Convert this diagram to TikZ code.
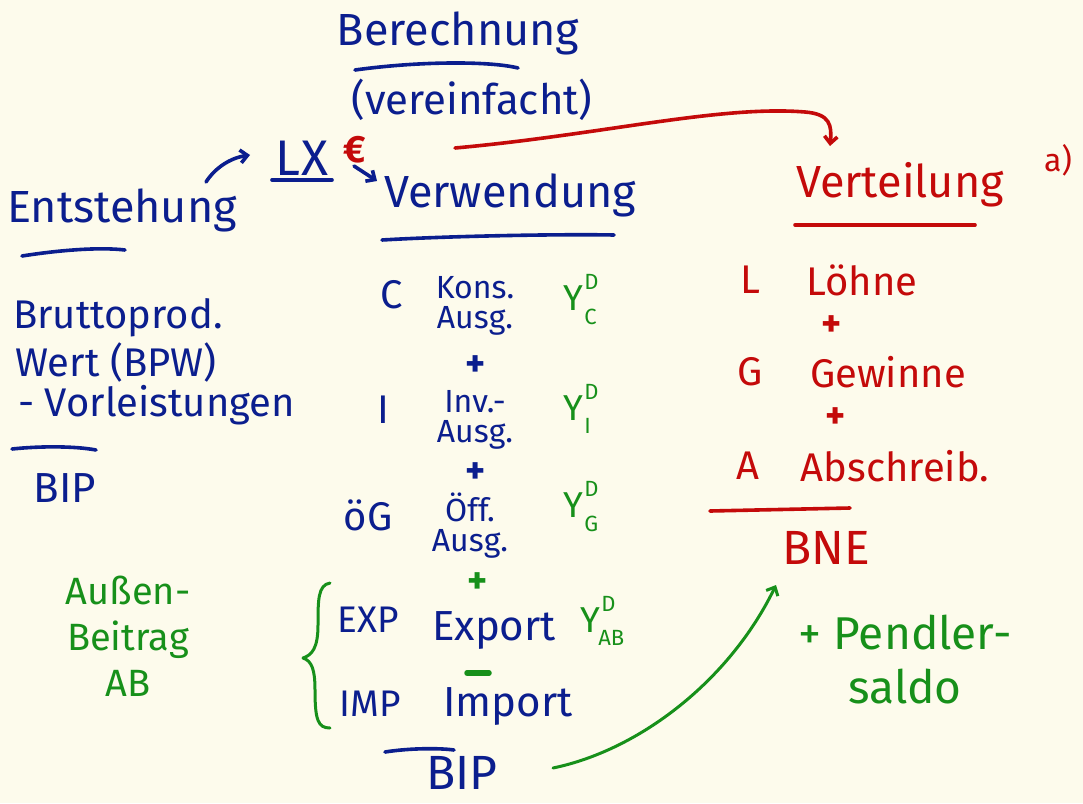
\documentclass[tikz,border=0pt]{standalone}
\usepackage{fontspec}
\setmainfont{Fira Sans}
\usetikzlibrary{arrows.meta}
\definecolor{paper}{HTML}{FDFBEC}
\definecolor{ink}{HTML}{0B1E8E}
\definecolor{pred}{HTML}{C40A0A}
\definecolor{pgreen}{HTML}{17901A}
\newcommand{\fs}[2]{\fontsize{#1}{#2}\selectfont}
\tikzset{
  pen/.style={line width=3.6pt, line cap=round, line join=round},
  hd/.style={inner sep=0pt, font=\fs{45}{48}},
  it/.style={inner sep=0pt, font=\fs{40}{44}},
  col/.style={inner sep=0pt, align=center, font=\fs{32}{30}},
  plus/.style={inner sep=0pt, font=\fs{38}{38}\bfseries},
  ybig/.style={inner sep=0pt, font=\fs{36}{36}, pgreen},
  ysmall/.style={inner sep=0pt, font=\fs{22}{22}, pgreen},
  barb/.style={-{Straight Barb[length=7pt,width=13pt]}},
}
\begin{document}
\begin{tikzpicture}[x=1pt,y=-1pt]
\useasboundingbox[fill=paper] (0,0) rectangle (1083,803);

% --- top: Berechnung ---
\node[hd, ink] (ber) at (458,33) {Berechnung};
\draw[pen, ink] (355,70) .. controls (420,61) and (490,61) .. (518,68);
\node[inner sep=0pt, ink, font=\fs{42}{42}] (ver) at (472,100) {(vereinfacht)};

\node[inner sep=0pt, ink, font=\fs{50}{50}] (lx) at (302,158) {L\kern1pt X};
\draw[pen, ink] (272,180) -- (332,180);
\node[inner sep=0pt, pred, font=\fs{38}{38}\bfseries] (eur) at (355,150) {€};

% --- Entstehung ---
\node[hd, ink] (ent) at (122,210) {Entstehung};
\draw[pen, ink] (22,256) .. controls (60,250) and (100,247) .. (125,250);
\coordinate (lxin) at (250,155);
\draw[pen, ink, barb] (206,182) .. controls (215,168) and (230,158) .. (lxin);

% --- Verwendung ---
\node[hd, ink] (verw) at (510,195) {Verwendung};
\draw[pen, ink] (382,240) .. controls (450,236) and (560,234) .. (614,235);
\coordinate (verwin) at (377,181);
\draw[pen, ink, barb] (354,166) -- (verwin);

% --- Verteilung ---
\node[hd, pred] (vert) at (900,185) {Verteilung};
\node[inner sep=0pt, pred, font=\fs{32}{32}] (a) at (1058,160) {a)};
\draw[pen, pred] (795,225) -- (975,225);
\coordinate (redend) at (830,146);
\draw[pen, pred, barb] (455,148) .. controls (600,135) and (720,105) .. (805,112) .. controls (830,114) and (832,125) .. (redend);

% --- left block ---
\node[it, ink, anchor=west] (bpw1) at (13,318) {Bruttoprod.};
\node[it, ink, anchor=west] (bpw2) at (15,362) {Wert (BPW)};
\node[it, ink, anchor=west] (vl) at (18,405) {- Vorleistungen};
\draw[pen, ink] (12,449) .. controls (40,446) and (75,446) .. (96,450);
\node[inner sep=0pt, ink, font=\fs{42}{42}] (bipl) at (65,488) {BIP};

% --- center column ---
\node[it, ink] (c) at (392,295) {C};
\node[col, ink] (konsa) at (475,306) {Kons.\\Ausg.};
\node[plus, ink] (p1) at (476,366) {+};

\node[it, ink] (i) at (383,410) {I};
\node[col, ink] (inva) at (475,420) {Inv.-\\Ausg.};
\node[plus, ink] (p2) at (476,473) {+};

\node[it, ink] (og) at (368,515) {öG};
\node[col, ink] (offa) at (470,526) {Öff.\\Ausg.};
\node[inner sep=0pt, pgreen, font=\fs{38}{38}\bfseries] (p3) at (478,583) {+};

\node[inner sep=0pt, ink, font=\fs{37}{37}] (exp) at (368,620) {EXP};
\node[inner sep=0pt, ink, font=\fs{42}{42}] (expo) at (494,630) {Export};
\draw[pen, pgreen, line width=5.5pt] (467,673) -- (489,673);

\node[inner sep=0pt, ink, font=\fs{37}{37}] (imp) at (370,704) {IMP};
\node[inner sep=0pt, ink, font=\fs{42}{42}] (impo) at (508,706) {Import};
\draw[pen, ink] (385,752) .. controls (410,748) and (440,748) .. (454,750);
\node[inner sep=0pt, ink, font=\fs{48}{48}] (bipc) at (462,773) {BIP};

% --- Y^D labels ---
\node[ybig] (yc) at (573,298) {Y};
\node[ysmall, anchor=south west] (ycs) at ([xshift=1pt,yshift=-4pt]yc.north east) {D};
\node[ysmall, anchor=north west] (ycb) at ([xshift=1pt,yshift=2pt]yc.south east) {C};

\node[ybig] (yi) at (573,408) {Y};
\node[ysmall, anchor=south west] (yis) at ([xshift=1pt,yshift=-4pt]yi.north east) {D};
\node[ysmall, anchor=north west] (yib) at ([xshift=1pt,yshift=2pt]yi.south east) {I};

\node[ybig] (yg) at (573,505) {Y};
\node[ysmall, anchor=south west] (ygs) at ([xshift=1pt,yshift=-4pt]yg.north east) {D};
\node[ysmall, anchor=north west] (ygb) at ([xshift=1pt,yshift=2pt]yg.south east) {G};

\node[ybig] (yab) at (590,620) {Y};
\node[ysmall, anchor=south west] (yabs) at ([xshift=1pt,yshift=-4pt]yab.north east) {D};
\node[ysmall, anchor=north west] (yabb) at ([xshift=-2pt,yshift=2pt]yab.south east) {AB};

% brace
\draw[pen, pgreen, line width=3pt] (330,583) .. controls (318,585) and (318,600) .. (318,625)
  .. controls (318,648) and (312,655) .. (303,658)
  .. controls (312,661) and (315,670) .. (315,690)
  .. controls (315,720) and (318,728) .. (330,728);

\node[inner sep=0pt, pgreen, align=center, font=\fs{38}{46}] (ab) at (128,636) {Außen-\\Beitrag\\AB};

% --- right red block ---
\node[it, pred] (l) at (750,280) {L};
\node[it, pred] (loehne) at (862,280) {Löhne};
\node[plus, pred] (p4) at (832,326) {+};
\node[it, pred] (g) at (750,372) {G};
\node[it, pred] (gew) at (888,372) {Gewinne};
\node[plus, pred] (p5) at (836,418) {+};
\node[it, pred] (aa) at (748,466) {A};
\node[it, pred] (abs) at (895,466) {Abschreib.};
\draw[pen, pred] (710,511) -- (850,508);
\node[inner sep=0pt, pred, font=\fs{48}{48}] (bne) at (826,548) {BNE};

% --- green arrow BIP -> BNE ---
\coordinate (bneArr) at (776,585);
\draw[pen, pgreen, line width=3pt, barb] (553,768) .. controls (640,750) and (730,680) .. (bneArr);

\node[inner sep=0pt, pgreen, align=center, font=\fs{46}{54}] (pend) at (905,660) {+ Pendler-\\saldo};
\end{tikzpicture}
\end{document}
